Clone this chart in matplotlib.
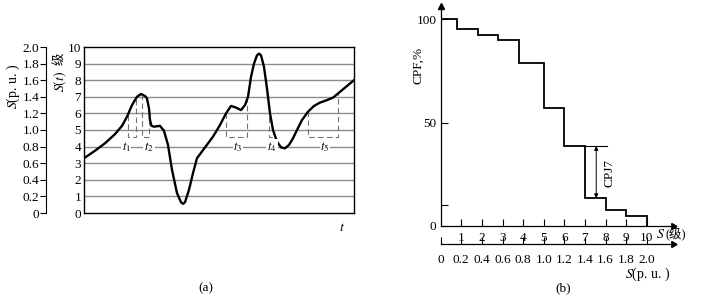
import numpy as np
import matplotlib
matplotlib.use('Agg')
import matplotlib.pyplot as plt

plt.rcParams['font.family'] = ['Liberation Serif', 'Noto Sans CJK SC']
plt.rcParams['mathtext.fontset'] = 'stix'
plt.rcParams['font.size'] = 9

# (a) S(t) curve, t in arbitrary units, S in levels
t = [0, 11, 21, 31, 38, 43, 48, 53, 57, 61, 63, 65, 66, 67.5, 70, 76, 80, 84, 88, 93, 97, 99,
     101, 105, 109, 113, 121, 129, 136, 142, 147, 152, 157, 161, 164, 167, 170, 173, 175,
     177, 180, 183, 186, 189, 193, 197, 201, 205, 209, 213, 218, 224, 230, 236, 243, 249,
     256, 263, 270]
s = [3.3, 3.75, 4.2, 4.75, 5.25, 5.8, 6.5, 7.0, 7.17, 7.05, 6.9, 6.3, 5.6, 5.25, 5.2, 5.25,
     4.95, 4.1, 2.6, 1.2, 0.65, 0.55, 0.65, 1.4, 2.4, 3.3, 3.95, 4.6, 5.3, 6.0, 6.45, 6.35,
     6.2, 6.5, 7.0, 8.2, 9.0, 9.5, 9.6, 9.5, 8.8, 7.5, 6.0, 5.0, 4.3, 3.95, 3.9, 4.1, 4.5,
     5.0, 5.6, 6.1, 6.45, 6.65, 6.8, 6.95, 7.3, 7.65, 8.0]
# time windows t1..t5 (start, end) and label positions
windows = [(43.7, 51.7), (57.7, 65.3), (142, 163.3), (185.3, 189.3), (224.3, 254.3)]
win_labels = ['$t_1$', '$t_2$', '$t_3$', '$t_4$', '$t_5$']
label_x = [42, 65, 154, 188, 241]
win_bottom = 4.55

# (b) CPF step curve
edges = [0, 0.8, 1.8, 2.8, 3.8, 5, 6, 7, 8, 9, 10]
cpf = [100, 95.3, 92.6, 90, 79, 57, 38.7, 13.4, 7.7, 5]

W, H = 701, 295
fig = plt.figure(figsize=(W / 100, H / 100), dpi=100)

def fx(px):
    return px / W

def fy(py):
    return 1 - py / H

# ---- panel (a)
ax1 = fig.add_axes([fx(84), fy(213), 270 / W, 166 / H])
for i in range(1, 10):
    ax1.axhline(i, color='0.55', lw=1.0, zorder=1)
ax1.plot(t, s, color='black', lw=1.7, zorder=3)
for (a, b) in windows:
    ya = np.interp(a, t, s)
    yb = np.interp(b, t, s)
    ax1.plot([a, a, b, b], [ya, win_bottom, win_bottom, yb], color='0.45',
             lw=0.8, ls=(0, (5, 3)), zorder=2)
for lx, lab in zip(label_x, win_labels):
    ax1.text(lx, 4.0, lab, ha='center', va='center', fontsize=9,
             bbox=dict(facecolor='white', edgecolor='none', pad=0.5), zorder=4)
ax1.set_xlim(0, 270)
ax1.set_ylim(0, 10)
ax1.set_xticks([])
ax1.set_yticks(range(0, 11))
ax1.tick_params(axis='y', length=0, pad=2, labelsize=9.5)
for sp in ax1.spines.values():
    sp.set_linewidth(1.0)
ax1.text(258, -0.5, '$t$', ha='center', va='top', fontsize=10)

ax_pu = fig.add_axes([fx(46), fy(213), 0.0001, 166 / H])
for k in ['top', 'right', 'bottom']:
    ax_pu.spines[k].set_visible(False)
ax_pu.spines['left'].set_linewidth(0.8)
ax_pu.set_ylim(0, 2.0)
pu = np.round(np.arange(0, 2.01, 0.2), 1)
ax_pu.set_yticks(pu)
ax_pu.set_yticklabels(['0'] + ['%.1f' % v for v in pu[1:]])
ax_pu.set_xticks([])
ax_pu.tick_params(axis='y', length=4, width=0.8, pad=1, labelsize=9.5)

fig.text(fx(13), fy(86), '$S$(p. u. )', rotation=90, ha='center', va='center', fontsize=10)
fig.text(fx(60), fy(81), '$S(t)$', rotation=90, ha='center', va='center', fontsize=10)
fig.text(fx(60), fy(59), '级', rotation=90, ha='center', va='center', fontsize=9)

# ---- panel (b)
px_per_lvl = 20.6
px_per_pct = 2.067
x0, y0 = 440.7, 226
xmax_px, ytop_px = 673, 6
ax2 = fig.add_axes([fx(x0), fy(y0), (xmax_px - x0) / W, (y0 - ytop_px) / H])
ax2.stairs(cpf, edges, baseline=0, color='black', lw=1.3, zorder=3)
ax2.set_xlim(0, (xmax_px - x0) / px_per_lvl)
ax2.set_ylim(0, (y0 - ytop_px) / px_per_pct)
for k in ['top', 'right']:
    ax2.spines[k].set_visible(False)
for k in ['left', 'bottom']:
    ax2.spines[k].set_linewidth(0.9)
ax2.set_xticks(range(1, 11))
ax2.set_yticks([0, 50, 100])
ax2.set_yticks([10], minor=True)
ax2.tick_params(axis='both', which='both', direction='in', length=5, width=0.8, labelsize=9.5)
ax2.tick_params(axis='x', pad=4)
ax2.tick_params(axis='y', pad=3)
ax2.plot(1, 0, marker=(3, 0, -90), ms=5, color='black', transform=ax2.transAxes, clip_on=False)
ax2.plot(0, 1, marker='^', ms=4, color='black', transform=ax2.transAxes, clip_on=False)

# CPJ7 marker
ax2.plot([7, 8.05], [cpf[6], cpf[6]], color='black', lw=0.8)
ax2.annotate('', xy=(7.55, cpf[7]), xytext=(7.55, cpf[6]),
             arrowprops=dict(arrowstyle='<|-|>', lw=0.7, color='black',
                             shrinkA=0, shrinkB=0, mutation_scale=6))
ax2.text(8.2, 25.6, 'CPJ7', rotation=90, ha='center', va='center', fontsize=9.5)

fig.text(fx(656), fy(235), '$S$', ha='left', va='center', fontsize=10)
fig.text(fx(665), fy(235), '(级)', ha='left', va='center', fontsize=9)
fig.text(fx(418), fy(65), 'CPF,%', rotation=90, ha='center', va='center', fontsize=9.5)

ax3 = fig.add_axes([fx(x0), fy(244.3), (xmax_px - x0) / W, 0.0001])
for k in ['top', 'right', 'left']:
    ax3.spines[k].set_visible(False)
ax3.spines['bottom'].set_linewidth(0.9)
ax3.set_xlim(0, (xmax_px - x0) / px_per_lvl * 0.2)
ax3.set_xticks(pu)
ax3.set_xticklabels(['0'] + ['%.1f' % v for v in pu[1:]])
ax3.set_yticks([])
ax3.tick_params(axis='x', direction='in', length=5, width=0.8, pad=7, labelsize=9.5)
ax3.plot(1, 0, marker=(3, 0, -90), ms=5, color='black', transform=ax3.transAxes, clip_on=False)
fig.text(fx(648), fy(274), '$S$(p. u. )', ha='center', va='center', fontsize=10)

fig.text(fx(206), fy(288), '(a)', ha='center', va='center', fontsize=9.5)
fig.text(fx(563), fy(288), '(b)', ha='center', va='center', fontsize=9.5)

fig.savefig('out.png', dpi=100)
